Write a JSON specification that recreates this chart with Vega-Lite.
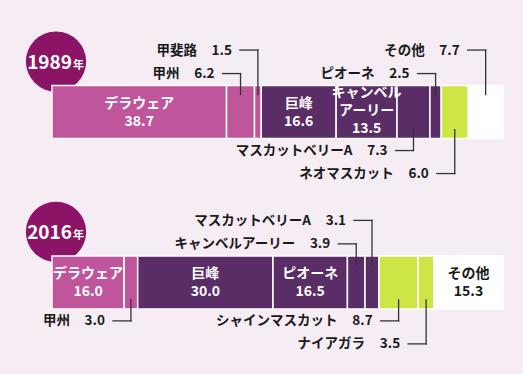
{
  "$schema": "https://vega.github.io/schema/vega-lite/v6.json",
  "width": 523,
  "height": 374,
  "autosize": {"type": "fit", "contains": "padding"},
  "padding": 0,
  "background": "#f6ecf4",
  "config": {
    "view": {"stroke": null},
    "text": {"font": "Noto Sans CJK JP", "fontWeight": "bold"}
  },
  "data": {
    "values": [
      {"year": 1989, "order": 1, "name": "デラウェア", "value": 38.7, "kind": "赤系", "tier": "inside"},
      {"year": 1989, "order": 2, "name": "甲州", "value": 6.2, "kind": "赤系", "tier": "above1"},
      {"year": 1989, "order": 3, "name": "甲斐路", "value": 1.5, "kind": "赤系", "tier": "above2"},
      {"year": 1989, "order": 4, "name": "巨峰", "value": 16.6, "kind": "黒系", "tier": "inside"},
      {"year": 1989, "order": 5, "name": "キャンベルアーリー", "value": 13.5, "kind": "黒系", "tier": "inside"},
      {"year": 1989, "order": 6, "name": "マスカットベリーA", "value": 7.3, "kind": "黒系", "tier": "below1"},
      {"year": 1989, "order": 7, "name": "ピオーネ", "value": 2.5, "kind": "黒系", "tier": "above1"},
      {"year": 1989, "order": 8, "name": "ネオマスカット", "value": 6.0, "kind": "白系", "tier": "below2"},
      {"year": 1989, "order": 9, "name": "その他", "value": 7.7, "kind": "その他", "tier": "above2"},
      {"year": 2016, "order": 1, "name": "デラウェア", "value": 16.0, "kind": "赤系", "tier": "inside"},
      {"year": 2016, "order": 2, "name": "甲州", "value": 3.0, "kind": "赤系", "tier": "below1"},
      {"year": 2016, "order": 3, "name": "巨峰", "value": 30.0, "kind": "黒系", "tier": "inside"},
      {"year": 2016, "order": 4, "name": "ピオーネ", "value": 16.5, "kind": "黒系", "tier": "inside"},
      {"year": 2016, "order": 5, "name": "キャンベルアーリー", "value": 3.9, "kind": "黒系", "tier": "above1"},
      {"year": 2016, "order": 6, "name": "マスカットベリーA", "value": 3.1, "kind": "黒系", "tier": "above2"},
      {"year": 2016, "order": 7, "name": "シャインマスカット", "value": 8.7, "kind": "白系", "tier": "below1"},
      {"year": 2016, "order": 8, "name": "ナイアガラ", "value": 3.5, "kind": "白系", "tier": "below2"},
      {"year": 2016, "order": 9, "name": "その他", "value": 15.3, "kind": "その他", "tier": "inside"}
    ]
  },
  "transform": [
    {"stack": "value", "groupby": ["year"], "sort": [{"field": "order", "order": "ascending"}], "as": ["x0", "x1"]},
    {"calculate": "(datum.x0 + datum.x1) / 2", "as": "mid"},
    {"calculate": "format(datum.value, '.1f')", "as": "vtxt"},
    {"calculate": "datum.name === 'キャンベルアーリー' ? 'キャンベル' : datum.name", "as": "n1"}
  ],
  "layer": [
    {
      "transform": [{"filter": "datum.order === 1"}],
      "mark": {"type": "circle", "size": 3632, "color": "#8c1466", "opacity": 1, "xOffset": 4, "yOffset": -50.5},
      "encoding": {
        "x": {"field": "x0", "type": "quantitative", "scale": {"domain": [-11.53, 104.43], "nice": false, "zero": false}, "axis": null},
        "y": {"field": "year", "type": "quantitative", "scale": {"domain": [1972.03, 2029.73], "nice": false, "zero": false, "reverse": true}, "axis": null}
      }
    },
    {
      "transform": [{"filter": "datum.order === 1"}],
      "mark": {"type": "text", "font": "Noto Sans CJK JP", "fontWeight": "bold", "align": "right", "baseline": "alphabetic", "fontSize": 19, "color": "white", "dx": 20, "yOffset": -43},
      "encoding": {
        "x": {"field": "x0", "type": "quantitative", "scale": {"domain": [-11.53, 104.43], "nice": false, "zero": false}, "axis": null},
        "y": {"field": "year", "type": "quantitative", "scale": {"domain": [1972.03, 2029.73], "nice": false, "zero": false, "reverse": true}, "axis": null},
        "text": {"field": "year", "type": "quantitative", "format": "d"}
      }
    },
    {
      "transform": [{"filter": "datum.order === 1"}],
      "mark": {"type": "text", "font": "Noto Sans CJK JP", "fontWeight": "bold", "align": "left", "baseline": "alphabetic", "fontSize": 11, "color": "white", "dx": 21, "yOffset": -43},
      "encoding": {
        "x": {"field": "x0", "type": "quantitative", "scale": {"domain": [-11.53, 104.43], "nice": false, "zero": false}, "axis": null},
        "y": {"field": "year", "type": "quantitative", "scale": {"domain": [1972.03, 2029.73], "nice": false, "zero": false, "reverse": true}, "axis": null},
        "text": {"value": "年"}
      }
    },
    {
      "mark": {"type": "bar", "size": 53, "stroke": "white", "strokeWidth": 1.5},
      "encoding": {
        "x": {"field": "x0", "type": "quantitative", "scale": {"domain": [-11.53, 104.43], "nice": false, "zero": false}, "axis": null},
        "x2": {"field": "x1"},
        "y": {"field": "year", "type": "quantitative", "scale": {"domain": [1972.03, 2029.73], "nice": false, "zero": false, "reverse": true}, "axis": null},
        "color": {"field": "kind", "type": "nominal", "legend": null, "scale": {"domain": ["赤系", "黒系", "白系", "その他"], "range": ["#bf569b", "#5a2d66", "#cde646", "#ffffff"]}}
      }
    },
    {
      "transform": [{"filter": "datum.tier === 'inside' && datum.name !== 'キャンベルアーリー'"}],
      "layer": [
        {"mark": {"type": "text", "align": "center", "baseline": "middle", "fontSize": 14, "dy": -8.5}, "encoding": {"text": {"field": "n1", "type": "nominal"}}},
        {"mark": {"type": "text", "align": "center", "baseline": "middle", "fontSize": 14, "dy": 9.5}, "encoding": {"text": {"field": "vtxt", "type": "nominal"}}}
      ],
      "encoding": {
        "x": {"field": "mid", "type": "quantitative", "scale": {"domain": [-11.53, 104.43], "nice": false, "zero": false}, "axis": null},
        "y": {"field": "year", "type": "quantitative", "scale": {"domain": [1972.03, 2029.73], "nice": false, "zero": false, "reverse": true}, "axis": null},
        "color": {"condition": {"test": "datum.kind === 'その他'", "value": "#1a1a1a"}, "value": "#ffffff"}
      }
    },
    {
      "transform": [{"filter": "datum.tier === 'inside' && datum.name === 'キャンベルアーリー'"}],
      "layer": [
        {"mark": {"type": "text", "align": "center", "baseline": "middle", "fontSize": 14, "dy": -19}, "encoding": {"text": {"field": "n1", "type": "nominal"}}},
        {"mark": {"type": "text", "align": "center", "baseline": "middle", "fontSize": 14, "dy": -1}, "encoding": {"text": {"value": "アーリー"}}},
        {"mark": {"type": "text", "align": "center", "baseline": "middle", "fontSize": 14, "dy": 17}, "encoding": {"text": {"field": "vtxt", "type": "nominal"}}}
      ],
      "encoding": {
        "x": {"field": "mid", "type": "quantitative", "scale": {"domain": [-11.53, 104.43], "nice": false, "zero": false}, "axis": null},
        "y": {"field": "year", "type": "quantitative", "scale": {"domain": [1972.03, 2029.73], "nice": false, "zero": false, "reverse": true}, "axis": null},
        "color": {"value": "#ffffff"}
      }
    },
    {
      "transform": [{"filter": "datum.tier === 'above2'"}],
      "layer": [
        {"mark": {"type": "rule", "color": "#333333", "strokeWidth": 1.3, "strokeCap": "square", "yOffset": -62, "x2Offset": -18}, "encoding": {"x2": {"field": "mid"}}},
        {"mark": {"type": "rule", "color": "#333333", "strokeWidth": 1.3, "strokeCap": "square", "yOffset": -62, "y2Offset": -17.5}, "encoding": {"y2": {"field": "year"}}},
        {"mark": {"type": "text", "align": "right", "baseline": "middle", "fontSize": 13.5, "color": "#1a1a1a", "dx": -26, "yOffset": -61.5}, "encoding": {"text": {"field": "vtxt", "type": "nominal"}}},
        {"mark": {"type": "text", "align": "right", "baseline": "middle", "fontSize": 13.5, "color": "#1a1a1a", "dx": -61, "yOffset": -61.5}, "encoding": {"text": {"field": "name", "type": "nominal"}}}
      ],
      "encoding": {
        "x": {"field": "mid", "type": "quantitative", "scale": {"domain": [-11.53, 104.43], "nice": false, "zero": false}, "axis": null},
        "y": {"field": "year", "type": "quantitative", "scale": {"domain": [1972.03, 2029.73], "nice": false, "zero": false, "reverse": true}, "axis": null}
      }
    },
    {
      "transform": [{"filter": "datum.tier === 'above1'"}],
      "layer": [
        {"mark": {"type": "rule", "color": "#333333", "strokeWidth": 1.3, "strokeCap": "square", "yOffset": -38.5, "x2Offset": -18}, "encoding": {"x2": {"field": "mid"}}},
        {"mark": {"type": "rule", "color": "#333333", "strokeWidth": 1.3, "strokeCap": "square", "yOffset": -38.5, "y2Offset": -17.5}, "encoding": {"y2": {"field": "year"}}},
        {"mark": {"type": "text", "align": "right", "baseline": "middle", "fontSize": 13.5, "color": "#1a1a1a", "dx": -26, "yOffset": -38}, "encoding": {"text": {"field": "vtxt", "type": "nominal"}}},
        {"mark": {"type": "text", "align": "right", "baseline": "middle", "fontSize": 13.5, "color": "#1a1a1a", "dx": -61, "yOffset": -38}, "encoding": {"text": {"field": "name", "type": "nominal"}}}
      ],
      "encoding": {
        "x": {"field": "mid", "type": "quantitative", "scale": {"domain": [-11.53, 104.43], "nice": false, "zero": false}, "axis": null},
        "y": {"field": "year", "type": "quantitative", "scale": {"domain": [1972.03, 2029.73], "nice": false, "zero": false, "reverse": true}, "axis": null}
      }
    },
    {
      "transform": [{"filter": "datum.tier === 'below1'"}],
      "layer": [
        {"mark": {"type": "rule", "color": "#333333", "strokeWidth": 1.3, "strokeCap": "square", "yOffset": 38.5, "x2Offset": -18}, "encoding": {"x2": {"field": "mid"}}},
        {"mark": {"type": "rule", "color": "#333333", "strokeWidth": 1.3, "strokeCap": "square", "yOffset": 38.5, "y2Offset": 17.5}, "encoding": {"y2": {"field": "year"}}},
        {"mark": {"type": "text", "align": "right", "baseline": "middle", "fontSize": 13.5, "color": "#1a1a1a", "dx": -26, "yOffset": 39}, "encoding": {"text": {"field": "vtxt", "type": "nominal"}}},
        {"mark": {"type": "text", "align": "right", "baseline": "middle", "fontSize": 13.5, "color": "#1a1a1a", "dx": -61, "yOffset": 39}, "encoding": {"text": {"field": "name", "type": "nominal"}}}
      ],
      "encoding": {
        "x": {"field": "mid", "type": "quantitative", "scale": {"domain": [-11.53, 104.43], "nice": false, "zero": false}, "axis": null},
        "y": {"field": "year", "type": "quantitative", "scale": {"domain": [1972.03, 2029.73], "nice": false, "zero": false, "reverse": true}, "axis": null}
      }
    },
    {
      "transform": [{"filter": "datum.tier === 'below2'"}],
      "layer": [
        {"mark": {"type": "rule", "color": "#333333", "strokeWidth": 1.3, "strokeCap": "square", "yOffset": 61.5, "x2Offset": -18}, "encoding": {"x2": {"field": "mid"}}},
        {"mark": {"type": "rule", "color": "#333333", "strokeWidth": 1.3, "strokeCap": "square", "yOffset": 61.5, "y2Offset": 17.5}, "encoding": {"y2": {"field": "year"}}},
        {"mark": {"type": "text", "align": "right", "baseline": "middle", "fontSize": 13.5, "color": "#1a1a1a", "dx": -26, "yOffset": 62}, "encoding": {"text": {"field": "vtxt", "type": "nominal"}}},
        {"mark": {"type": "text", "align": "right", "baseline": "middle", "fontSize": 13.5, "color": "#1a1a1a", "dx": -61, "yOffset": 62}, "encoding": {"text": {"field": "name", "type": "nominal"}}}
      ],
      "encoding": {
        "x": {"field": "mid", "type": "quantitative", "scale": {"domain": [-11.53, 104.43], "nice": false, "zero": false}, "axis": null},
        "y": {"field": "year", "type": "quantitative", "scale": {"domain": [1972.03, 2029.73], "nice": false, "zero": false, "reverse": true}, "axis": null}
      }
    }
  ]
}
